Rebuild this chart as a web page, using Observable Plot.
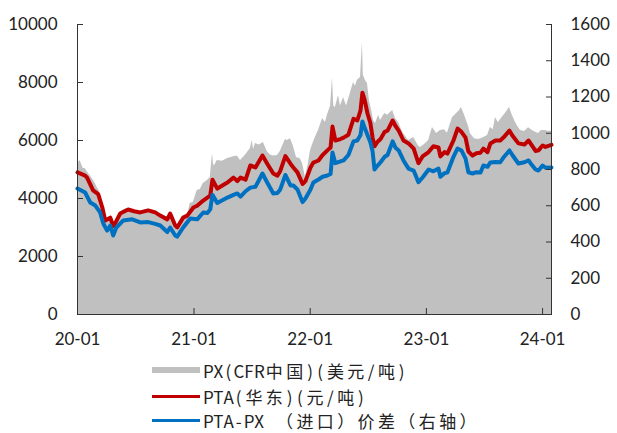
<!DOCTYPE html>
<html><head><meta charset="utf-8">
<script src="https://cdn.jsdelivr.net/npm/d3@7"></script>
<script src="https://cdn.jsdelivr.net/npm/@observablehq/plot@0.6"></script>
<style>
body{margin:0;background:#fff;overflow:hidden;}
#chart{width:617px;}
.legend{margin-left:152px;margin-top:5px;font-family:"Noto Sans CJK SC";font-size:17px;line-height:1;color:#222;}
.row{display:flex;align-items:center;height:26.5px;white-space:nowrap;}
.row:last-child{height:20px;}
.sw{width:48px;margin-right:3px;flex:none;}
.c{display:inline-block;text-align:center;}
</style></head><body><div id="chart"></div>
<div class="legend" id="legend"></div>
<script>
// PX (CFR China), USD/t — right axis
const pxDates = ["2020-01-01","2020-01-09","2020-01-19","2020-01-25","2020-02-04","2020-02-16","2020-02-26","2020-03-03","2020-03-09","2020-03-19","2020-03-28","2020-04-06","2020-04-13","2020-04-22","2020-04-28","2020-05-08","2020-05-14","2020-05-27","2020-06-08","2020-06-27","2020-07-16","2020-08-10","2020-09-01","2020-09-17","2020-10-03","2020-10-18","2020-11-03","2020-11-09","2020-11-22","2020-12-11","2020-12-20","2020-12-30","2021-01-11","2021-01-21","2021-01-30","2021-02-12","2021-02-21","2021-02-28","2021-03-03","2021-03-06","2021-03-15","2021-03-31","2021-04-16","2021-04-25","2021-05-05","2021-05-17","2021-05-27","2021-06-12","2021-06-27","2021-07-03","2021-07-07","2021-07-13","2021-07-25","2021-08-07","2021-08-19","2021-08-29","2021-09-07","2021-09-20","2021-09-29","2021-10-15","2021-10-21","2021-10-31","2021-11-09","2021-11-19","2021-12-01","2021-12-08","2021-12-17","2021-12-26","2022-01-02","2022-01-08","2022-01-17","2022-01-27","2022-02-09","2022-02-18","2022-02-24","2022-03-06","2022-03-12","2022-03-16","2022-03-21","2022-03-31","2022-04-06","2022-04-16","2022-04-25","2022-05-07","2022-05-17","2022-05-23","2022-05-29","2022-06-08","2022-06-14","2022-06-17","2022-06-24","2022-06-30","2022-07-06","2022-07-13","2022-07-19","2022-07-25","2022-08-04","2022-08-10","2022-08-23","2022-09-01","2022-09-10","2022-09-17","2022-09-26","2022-10-06","2022-10-15","2022-10-21","2022-11-06","2022-11-22","2022-12-07","2022-12-14","2022-12-27","2023-01-08","2023-01-20","2023-02-02","2023-02-14","2023-02-27","2023-03-08","2023-03-24","2023-04-06","2023-04-15","2023-04-21","2023-05-01","2023-05-13","2023-05-19","2023-06-01","2023-06-14","2023-06-29","2023-07-12","2023-07-21","2023-07-30","2023-08-06","2023-08-15","2023-08-28","2023-09-06","2023-09-19","2023-09-28","2023-10-08","2023-10-17","2023-10-24","2023-11-05","2023-11-18","2023-11-30","2023-12-10","2023-12-19","2023-12-28","2024-01-10","2024-01-20","2024-01-29"];
const pxValues = [833,850,805,805,780,750,723,700,684,590,546,519,520,490,502,530,563,580,585,570,560,565,555,540,520,545,480,463,500,540,612,620,684,690,723,740,756,888,830,820,850,845,861,865,870,875,850,880,916,960,910,943,935,949,900,880,875,877,900,965,960,970,930,866,860,833,756,830,905,935,977,1015,1081,1060,1100,1150,1307,1150,1142,1208,1150,1197,1150,1219,1280,1260,1291,1307,1500,1320,1290,1274,1180,1125,1070,1054,1100,1070,1109,1100,1114,1125,1080,1059,1020,999,960,977,930,921,940,960,1032,999,1015,1020,1000,1087,1109,1125,1142,1100,1040,999,970,965,975,988,1032,1020,1087,1060,1090,1109,1142,1100,1060,1032,1015,1010,1030,1015,1005,999,1015,1015,1010,1012];

// PTA (East China), CNY/t — left axis
const ptaDates = ["2020-01-01","2020-01-25","2020-01-31","2020-02-19","2020-03-06","2020-03-19","2020-03-28","2020-04-13","2020-04-22","2020-04-28","2020-05-14","2020-06-08","2020-06-27","2020-07-16","2020-08-10","2020-09-01","2020-09-17","2020-10-09","2020-10-18","2020-11-03","2020-11-09","2020-11-28","2020-12-11","2020-12-30","2021-01-11","2021-01-30","2021-02-12","2021-02-21","2021-02-28","2021-03-15","2021-03-31","2021-04-16","2021-05-05","2021-05-17","2021-05-27","2021-06-12","2021-06-27","2021-07-13","2021-08-04","2021-08-19","2021-09-07","2021-09-20","2021-09-29","2021-10-15","2021-10-31","2021-11-09","2021-11-22","2021-12-08","2021-12-17","2022-01-02","2022-01-11","2022-01-27","2022-02-09","2022-02-24","2022-03-06","2022-03-12","2022-03-21","2022-04-06","2022-04-16","2022-05-01","2022-05-17","2022-05-29","2022-06-08","2022-06-14","2022-06-21","2022-06-30","2022-07-09","2022-07-16","2022-07-22","2022-07-31","2022-08-10","2022-08-23","2022-09-01","2022-09-17","2022-09-26","2022-10-06","2022-10-21","2022-11-06","2022-11-22","2022-12-07","2022-12-20","2023-01-08","2023-01-23","2023-02-08","2023-02-14","2023-02-27","2023-03-08","2023-03-27","2023-04-09","2023-04-21","2023-05-04","2023-05-13","2023-05-26","2023-06-07","2023-06-20","2023-06-29","2023-07-12","2023-07-21","2023-08-06","2023-08-21","2023-08-31","2023-09-19","2023-09-28","2023-10-17","2023-11-05","2023-11-18","2023-11-24","2023-12-10","2023-12-19","2024-01-01","2024-01-10","2024-01-29"];
const ptaValues = [4900,4790,4720,4280,4150,3690,3240,3340,3050,3140,3480,3620,3560,3520,3590,3520,3410,3280,3480,3070,3000,3340,3410,3690,3750,3930,4030,4100,4650,4340,4450,4550,4720,4600,4720,4650,5140,5070,5480,5200,4860,4790,4950,5460,5200,5070,4900,4500,4600,5070,5240,5310,5500,5660,5760,6480,6000,6050,6100,6200,6750,6690,7030,7650,7400,6930,6600,6100,5800,5950,6050,6300,6340,6690,6500,6340,6000,5900,5720,5220,5450,5600,5800,5760,5450,5600,5550,6000,6410,6300,6100,5620,5480,5560,5580,5720,5600,5900,6000,6000,6100,6340,6170,5900,5860,6000,5900,5640,5660,5830,5780,5850];

// PTA-PX (import) spread — right axis
const spreadDates = ["2020-01-01","2020-01-25","2020-02-10","2020-02-26","2020-03-12","2020-03-22","2020-04-03","2020-04-13","2020-04-22","2020-05-02","2020-05-24","2020-06-21","2020-07-16","2020-08-10","2020-09-01","2020-09-17","2020-10-09","2020-10-18","2020-11-03","2020-11-09","2020-11-28","2020-12-20","2021-01-11","2021-01-30","2021-02-12","2021-02-21","2021-02-28","2021-03-15","2021-03-31","2021-04-16","2021-05-05","2021-05-17","2021-05-27","2021-06-12","2021-06-27","2021-07-13","2021-08-04","2021-08-19","2021-09-07","2021-09-20","2021-09-29","2021-10-15","2021-10-31","2021-11-09","2021-11-22","2021-12-08","2021-12-17","2022-01-02","2022-01-11","2022-01-27","2022-02-09","2022-02-24","2022-03-06","2022-03-12","2022-03-21","2022-04-06","2022-04-16","2022-05-01","2022-05-17","2022-05-29","2022-06-08","2022-06-14","2022-06-21","2022-06-30","2022-07-09","2022-07-16","2022-07-22","2022-07-31","2022-08-10","2022-08-23","2022-09-01","2022-09-17","2022-09-26","2022-10-06","2022-10-21","2022-11-06","2022-11-22","2022-12-07","2022-12-20","2023-01-08","2023-01-23","2023-02-08","2023-02-14","2023-02-27","2023-03-08","2023-03-27","2023-04-09","2023-04-21","2023-05-04","2023-05-13","2023-05-26","2023-06-07","2023-06-20","2023-06-29","2023-07-12","2023-07-21","2023-08-06","2023-08-21","2023-08-31","2023-09-19","2023-09-28","2023-10-17","2023-11-05","2023-11-18","2023-11-24","2023-12-10","2023-12-19","2024-01-01","2024-01-10","2024-01-29"];
const spreadValues = [695,673,618,601,563,502,463,490,436,480,519,525,508,510,500,491,455,480,436,430,480,530,525,563,560,580,660,615,630,645,660,668,650,680,700,705,778,728,668,670,690,770,712,712,690,620,640,690,728,745,760,767,775,894,835,845,850,880,955,960,990,1065,1030,990,950,900,800,820,840,870,880,955,920,905,850,805,794,730,756,800,790,805,760,780,783,870,916,905,860,785,778,785,783,822,815,839,842,840,866,905,880,833,840,850,835,800,794,822,810,811];

const leftTicks = [0,2000,4000,6000,8000,10000];
const rightTicks = [0,200,400,600,800,1000,1200,1400,1600];
const xTickLabels = ["2020-01-01","2021-01-01","2022-01-01","2023-01-01","2024-01-01"];
const xStart = "2020-01-01", xEnd = "2024-01-29";
const seriesNames = ["PX(CFR中国)(美元/吨)", "PTA(华东)(元/吨)", "PTA-PX （进口）价差（右轴）"];
const seriesColors = ["#c0c0c0", "#c00000", "#0070c0"];

const parse = d3.utcParse("%Y-%m-%d");
const RATIO = 10000 / 1600;
const px = pxDates.map((d, i) => ({date: parse(d), v: pxValues[i]}));
const pta = ptaDates.map((d, i) => ({date: parse(d), v: ptaValues[i]}));
const spread = spreadDates.map((d, i) => ({date: parse(d), v: spreadValues[i]}));
const x0 = parse(xStart), x1 = parse(xEnd);

const chart = Plot.plot({
  width: 617, height: 352,
  marginLeft: 77, marginRight: 66, marginTop: 24, marginBottom: 38,
  style: {fontFamily: "Lato", fontSize: "17px", color: "#222", background: "#fff"},
  x: {type: "utc", domain: [x0, x1]},
  y: {domain: [0, 10000]},
  marks: [
    Plot.areaY(px, {x: "date", y: d => d.v * RATIO, fill: seriesColors[0]}),
    Plot.lineY(pta, {x: "date", y: "v", stroke: seriesColors[1], strokeWidth: 4}),
    Plot.lineY(spread, {x: "date", y: d => d.v * RATIO, stroke: seriesColors[2], strokeWidth: 4}),
    Plot.ruleX([x0, x1], {stroke: "#333"}),
    Plot.ruleY([0], {stroke: "#333"}),
    Plot.axisY(leftTicks, {anchor: "left", tickSize: -6, tickPadding: 26, tickFormat: d => String(d), label: null, stroke: "#333"}),
    Plot.axisY(rightTicks.map(v => v * RATIO), {anchor: "right", tickSize: -6, tickPadding: 25, tickFormat: d => String(Math.round(d / RATIO)), label: null, stroke: "#333"}),
    Plot.axisX(xTickLabels.map(parse), {anchor: "bottom", tickSize: -6, tickPadding: 24, tickFormat: d3.utcFormat("%y-%m"), label: null, stroke: "#333"})
  ]
});
document.getElementById("chart").append(chart);

// legend: half-width cells for ASCII, full-width cells for CJK (like the source font)
const legend = document.getElementById("legend");
seriesNames.forEach((name, i) => {
  const row = document.createElement("div");
  row.className = "row";
  const sw = document.createElement("span");
  sw.className = "sw";
  sw.style.height = i === 0 ? "6px" : "3px";
  sw.style.background = seriesColors[i];
  row.append(sw);
  const label = document.createElement("span");
  for (const ch of name) {
    const c = document.createElement("span");
    c.className = "c";
    c.textContent = ch === " " ? "\u00a0" : ch;
    c.style.width = (ch.charCodeAt(0) < 128 ? 10.2 : 20.4) + "px";
    label.append(c);
  }
  row.append(label);
  legend.append(row);
});
</script>
</body></html>
